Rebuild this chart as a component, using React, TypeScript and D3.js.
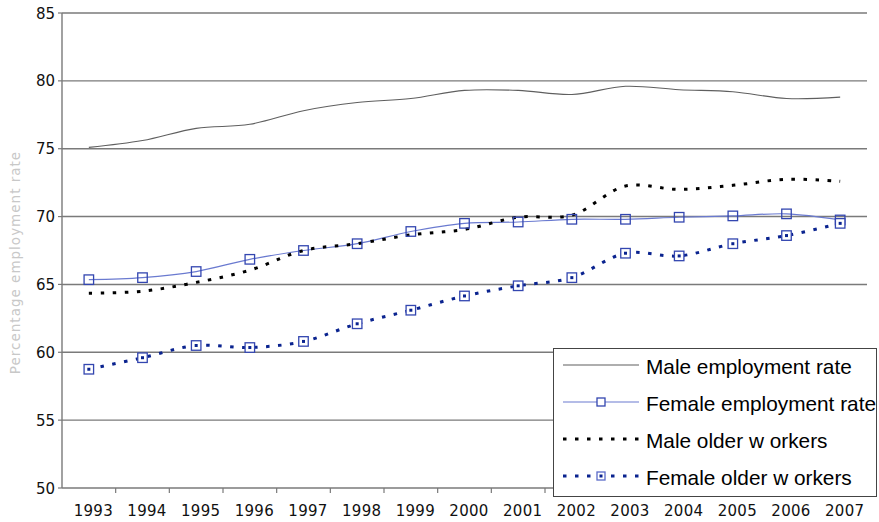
import React from "react";
import * as d3 from "d3";

const years = ["1993","1994","1995","1996","1997","1998","1999","2000","2001","2002","2003","2004","2005","2006","2007"];
const maleEmployment = [75.1, 75.6, 76.5, 76.8, 77.8, 78.4, 78.7, 79.3, 79.3, 79.0, 79.6, 79.35, 79.2, 78.7, 78.8];
const femaleEmployment = [65.35, 65.5, 65.95, 66.85, 67.5, 68.0, 68.9, 69.5, 69.6, 69.8, 69.8, 69.95, 70.05, 70.2, 69.75];
const maleOlder = [64.35, 64.5, 65.15, 66.05, 67.5, 68.0, 68.65, 69.05, 69.95, 70.1, 72.25, 72.0, 72.3, 72.75, 72.6];
const femaleOlder = [58.75, 59.6, 60.5, 60.35, 60.8, 62.1, 63.1, 64.15, 64.9, 65.5, 67.3, 67.1, 68.0, 68.6, 69.5];
const yTicks = [50, 55, 60, 65, 70, 75, 80, 85];
const yTitle = "Percentage employment rate";
const legendLabels = ["Male employment rate", "Female employment rate", "Male older w orkers", "Female older w orkers"];

const W = 879, H = 522;
const L = 62, R = 867, T = 13, B = 488;

export default function App() {
  const x = d3.scaleBand<string>().domain(years).range([L, R]);
  const cx = (d: string) => (x(d) as number) + x.bandwidth() / 2;
  const y = d3.scaleLinear().domain([50, 85]).range([B, T]);
  const line = d3.line<number>().x((_, i) => cx(years[i])).y((v) => y(v)).curve(d3.curveCatmullRom.alpha(0.5));

  const gridColor = "#7a7a7a";
  const femaleLine = "#6a7ad0";
  const markerStroke = "#3346b0";
  const olderBlue = "#0a238f";
  const dash = "3.5,8.5";

  const legendRows = [365, 402, 439, 476];
  const lx0 = 563, lx1 = 639, lmid = 601;

  return (
    <svg width={W} height={H} style={{ position: "absolute", left: 0, top: 0, background: "#fff" }}>
      {/* y title */}
      <text
        transform={`translate(20, ${(T + B) / 2 + 12}) rotate(-90)`}
        textAnchor="middle"
        fontFamily="DejaVu Sans"
        fontSize={13.5}
        letterSpacing={1}
        fill="#c8c8c8"
      >
        {yTitle}
      </text>
      {/* gridlines */}
      {yTicks.map((t) => (
        <g key={t}>
          {t !== 50 && <line x1={L} x2={R} y1={y(t)} y2={y(t)} stroke={gridColor} strokeWidth={1.4} />}
          <line x1={L - 4} x2={L} y1={y(t)} y2={y(t)} stroke={gridColor} strokeWidth={1.2} />
          <text x={L - 7} y={y(t) + 5.5} textAnchor="end" fontFamily="DejaVu Sans" fontSize={15} fill="#111">
            {t}
          </text>
        </g>
      ))}
      {/* axes */}
      <line x1={L} x2={L} y1={T} y2={B} stroke={gridColor} strokeWidth={1.4} />
      <line x1={L} x2={R} y1={B} y2={B} stroke={gridColor} strokeWidth={1.4} />
      {years.map((yr) => (
        <g key={yr}>
          <line x1={(x(yr) as number) + x.bandwidth()} x2={(x(yr) as number) + x.bandwidth()} y1={B} y2={B + 5} stroke={gridColor} strokeWidth={1.2} />
          <text x={cx(yr) + 4.5} y={516} textAnchor="middle" fontFamily="DejaVu Sans" fontSize={15} letterSpacing={0.3} fill="#111">
            {yr}
          </text>
        </g>
      ))}
      {/* series */}
      <path d={line(maleEmployment) || ""} fill="none" stroke="#5f5f5f" strokeWidth={1.1} />
      <path d={line(femaleEmployment) || ""} fill="none" stroke={femaleLine} strokeWidth={1.2} />
      <path d={line(maleOlder) || ""} fill="none" stroke="#000" strokeWidth={3} strokeDasharray={dash} />
      <path d={line(femaleOlder) || ""} fill="none" stroke={olderBlue} strokeWidth={3} strokeDasharray={dash} />
      {femaleEmployment.map((v, i) => (
        <rect key={"fe" + i} x={cx(years[i]) - 4.75} y={y(v) - 4.75} width={9.5} height={9.5} fill="none" stroke={markerStroke} strokeWidth={1.3} />
      ))}
      {femaleOlder.map((v, i) => (
        <g key={"fo" + i}>
          <rect x={cx(years[i]) - 4.75} y={y(v) - 4.75} width={9.5} height={9.5} fill="#fff" stroke={markerStroke} strokeWidth={1.3} />
          <rect x={cx(years[i]) - 1.5} y={y(v) - 1.5} width={3} height={3} fill={olderBlue} />
        </g>
      ))}
      {/* legend */}
      <rect x={553.5} y={348.5} width={323} height={148} fill="#fff" stroke="#444" strokeWidth={1} />
      <line x1={lx0} x2={lx1} y1={legendRows[0]} y2={legendRows[0]} stroke="#5f5f5f" strokeWidth={1.1} />
      <line x1={lx0} x2={lx1} y1={legendRows[1]} y2={legendRows[1]} stroke={femaleLine} strokeWidth={1.2} />
      <rect x={lmid - 4} y={legendRows[1] - 4} width={8} height={8} fill="#fff" stroke={markerStroke} strokeWidth={1.3} />
      <line x1={lx0} x2={lx1} y1={legendRows[2]} y2={legendRows[2]} stroke="#000" strokeWidth={3} strokeDasharray={dash} />
      <line x1={lx0} x2={lx1} y1={legendRows[3]} y2={legendRows[3]} stroke={olderBlue} strokeWidth={3} strokeDasharray={dash} />
      <rect x={lmid - 4} y={legendRows[3] - 4} width={8} height={8} fill="#fff" stroke="#5a6ac8" strokeWidth={1.3} />
      <rect x={lmid - 1.5} y={legendRows[3] - 1.5} width={3} height={3} fill={olderBlue} />
      {legendLabels.map((t, i) => (
        <text key={t} x={646} y={legendRows[i] + 8.5} fontFamily="Liberation Sans" fontSize={20.8} fill="#000">
          {t}
        </text>
      ))}
    </svg>
  );
}
